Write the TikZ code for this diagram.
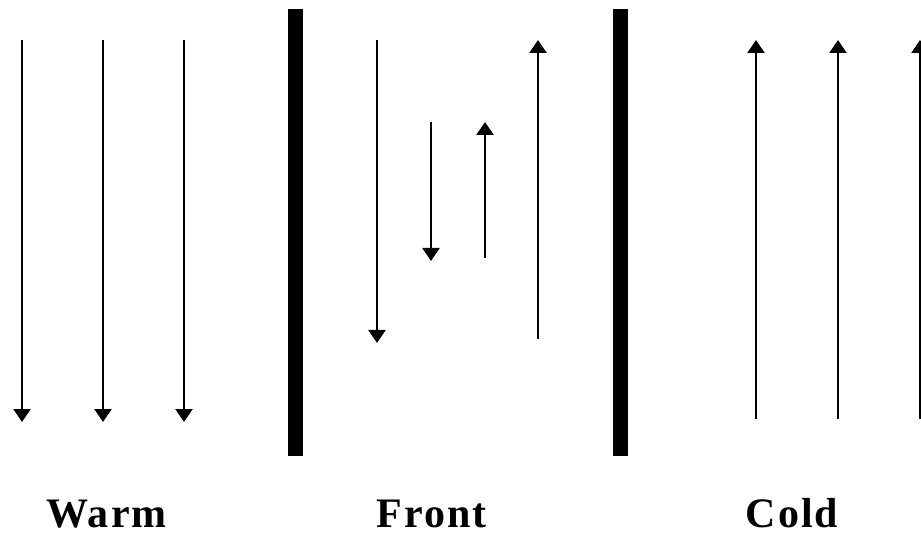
\documentclass[tikz,border=0pt]{standalone}
\usepackage{fontspec}
\setmainfont{Liberation Serif}
\usetikzlibrary{arrows.meta}

\begin{document}
\begin{tikzpicture}[
	x=1pt, y=-1pt, line width=2.5pt, >={Triangle[width=17pt,length=13pt]},
	front/.style={fill=black},
	label/.style={font=\bfseries\fontsize{42}{42}\selectfont\addfontfeature{LetterSpace=5},
		inner sep=0pt, text depth=0pt, anchor=base}
	]
	\useasboundingbox (0,0) rectangle (921,537);
	% warm air sinking
	\foreach \x/\n in {22/1,103/2,184/3} {
		\coordinate (W\n a) at (\x,40);
		\coordinate (W\n b) at (\x,422);
		\draw [->] (W\n a) -- (W\n b);
	}
	% cold air rising
	\foreach \x/\n in {756/1,838/2,920/3} {
		\coordinate (C\n a) at (\x,419);
		\coordinate (C\n b) at (\x,40);
		\draw [->] (C\n a) -- (C\n b);
	}
	% the front itself
	\coordinate (F1a) at (377,40);  \coordinate (F1b) at (377,343);
	\coordinate (F2a) at (431,122); \coordinate (F2b) at (431,261);
	\coordinate (F3a) at (485,258); \coordinate (F3b) at (485,122);
	\coordinate (F4a) at (538,339); \coordinate (F4b) at (538,40);
	\draw [->] (F1a) -- (F1b);
	\draw [->] (F2a) -- (F2b);
	\draw [->] (F3a) -- (F3b);
	\draw [->] (F4a) -- (F4b);
	% boundaries
	\fill [front] (288,9) rectangle (303,456);
	\fill [front] (613,9) rectangle (628,456);
	% labels
	\node [label] (warm) at (106.5,527) {Warm};
	\node [label] (front) at (431.5,527) {Front};
	\node [label] (cold) at (792,527) {Cold};
\end{tikzpicture}
\end{document}
